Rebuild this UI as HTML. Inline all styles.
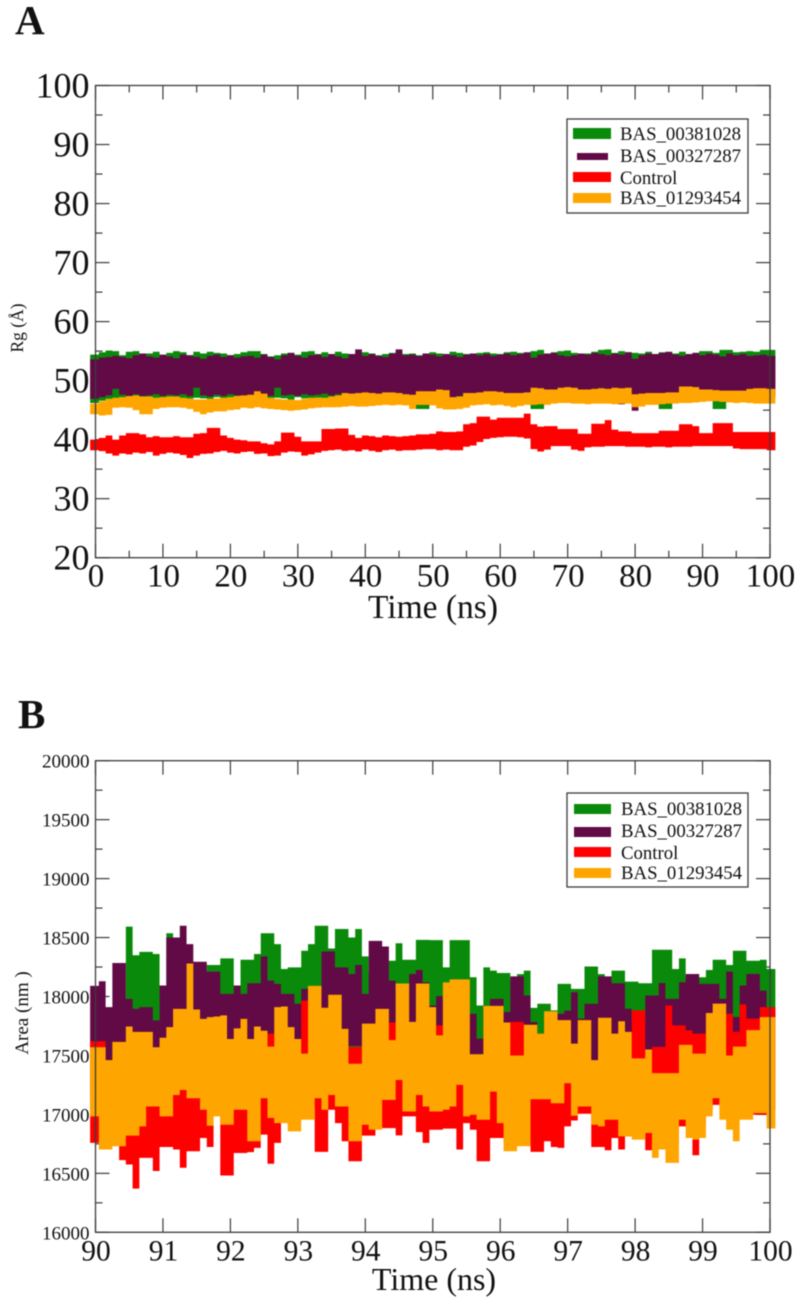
<!DOCTYPE html>
<html>
<head>
<meta charset="utf-8">
<style>
html,body{margin:0;padding:0;background:#fff;width:797px;height:1302px;overflow:hidden}
svg{display:block;filter:blur(0.4px)}
text{font-family:"Liberation Serif",serif;fill:#111}
</style>
</head>
<body>
<svg id="fig" width="797" height="1302" viewBox="0 0 797 1302" xmlns="http://www.w3.org/2000/svg"></svg>
<script>
/* Panel A: radius of gyration, sampled once per ns (0..100) */
const aStart = 0;
const aStep = 1;
const aXTicks = [0,10,20,30,40,50,60,70,80,90,100];
const aXMinor = [5,15,25,35,45,55,65,75,85,95];
const aYTicks = [20,30,40,50,60,70,80,90,100];
const aYMinor = [25,35,45,55,65,75,85,95];
const aGreenTop = [54.4,54.8,55.1,55.0,54.3,54.9,55.0,54.4,54.6,54.9,54.3,54.7,55.0,54.8,54.3,54.9,54.6,54.9,54.7,54.6,54.3,54.5,54.8,55.0,55.0,54.5,54.1,54.3,54.6,54.7,54.4,54.9,55.0,54.5,54.8,54.4,54.9,54.6,54.5,54.7,54.8,54.6,54.3,54.5,54.7,54.9,54.5,54.6,54.3,54.6,54.8,54.6,54.5,54.9,54.7,54.5,54.4,54.7,54.8,54.6,54.5,54.8,54.9,54.7,54.6,55.0,55.2,54.6,54.8,55.0,55.1,54.7,54.5,54.6,54.9,55.2,55.3,54.7,55.0,54.8,54.7,54.6,54.9,54.5,54.8,54.8,54.6,54.9,54.5,54.7,55.0,55.0,54.7,55.2,55.2,54.8,54.9,55.0,54.9,55.2,55.2];
const aGreenBot = [46.2,46.6,46.9,46.9,47.1,46.8,47.0,46.9,47.1,46.8,47.0,47.2,46.9,47.0,46.8,47.1,47.0,46.9,47.2,46.8,47.1,46.9,47.0,46.8,47.2,47.0,46.9,47.1,47.0,46.8,47.2,47.0,46.9,47.1,46.8,47.0,47.2,46.9,47.1,47.0,47.2,46.9,47.1,47.0,47.2,46.9,47.1,47.0,45.2,45.2,47.3,47.1,47.0,47.2,47.3,47.1,47.4,47.2,47.0,47.3,47.1,47.2,47.4,47.1,47.3,45.2,45.2,47.4,47.2,47.5,47.3,47.4,47.2,47.5,47.3,47.4,47.2,47.5,47.3,47.4,47.2,47.3,47.5,47.3,45.2,45.2,47.4,47.6,47.3,47.5,47.4,47.5,45.2,45.2,47.6,47.4,47.5,47.3,47.6,47.4,47.5];
const aPurpleTop = [53.6,53.9,54.0,54.2,54.0,53.8,54.3,54.6,54.1,53.9,54.4,54.1,53.8,54.4,54.3,54.0,53.7,54.2,54.4,54.0,54.3,53.9,54.1,54.2,53.9,54.4,54.0,53.6,54.3,54.7,54.2,53.9,54.3,54.4,54.0,54.5,54.1,53.8,54.5,55.3,54.2,54.5,54.2,54.0,54.6,55.3,54.3,54.4,54.2,54.6,54.4,54.1,54.5,54.3,54.0,54.4,54.6,54.3,54.5,54.2,54.4,54.6,54.3,54.5,54.8,53.9,54.4,54.6,54.7,54.3,54.1,54.3,54.6,54.4,54.7,54.5,54.3,54.6,54.4,54.8,53.7,54.3,54.6,54.5,54.7,54.9,54.4,54.2,54.5,54.7,54.3,54.6,54.4,54.1,54.6,54.3,54.5,54.2,54.3,54.4,54.2];
const aPurpleBot = [46.9,47.2,47.5,48.6,47.6,47.4,47.7,47.4,47.5,47.7,47.4,47.6,47.5,47.7,47.4,48.8,47.5,47.3,47.6,47.4,47.7,47.5,47.4,47.6,47.8,47.5,47.4,48.8,47.5,47.6,47.4,47.7,47.5,47.6,47.8,47.5,47.7,47.6,47.8,47.6,47.9,47.7,47.6,47.8,47.7,47.9,47.7,47.5,47.8,47.9,47.7,47.6,47.0,46.9,47.4,47.8,47.9,47.7,47.8,47.9,47.7,47.8,47.6,47.8,47.9,47.7,47.8,47.9,47.7,47.9,47.8,46.3,47.8,47.9,47.8,47.9,47.7,46.2,46.0,47.7,44.9,47.0,47.6,47.8,47.7,47.6,47.8,47.7,47.9,47.8,47.7,47.9,47.8,47.7,47.9,47.8,47.7,47.9,47.8,47.7,47.2];
const aRedTop = [40.0,40.3,40.7,40.0,40.7,41.1,41.1,40.9,40.4,40.6,40.4,40.4,40.6,40.4,40.4,41.0,41.1,42.0,42.0,40.7,40.3,40.0,39.9,39.7,39.7,39.4,39.2,39.7,41.2,41.2,40.5,39.7,39.7,39.7,41.8,41.8,41.9,41.9,40.8,40.3,40.7,40.6,40.4,40.7,40.6,40.5,40.6,40.7,40.9,40.9,41.0,41.4,41.3,41.3,41.4,42.6,42.8,43.9,43.9,43.4,43.7,43.7,43.7,43.7,44.4,42.6,42.2,42.3,42.3,41.8,41.8,41.8,41.0,41.0,42.7,42.7,43.3,41.7,41.4,41.4,41.1,41.1,41.1,41.1,41.5,41.5,41.5,42.6,42.6,42.3,41.1,41.1,42.8,42.8,42.8,41.3,41.3,41.3,41.3,41.3,41.3];
const aRedBot = [38.2,38.05,37.65,37.3,37.65,37.5,37.8,37.65,37.9,37.3,37.6,37.8,37.65,37.4,36.9,37.3,37.6,37.65,37.9,38.1,37.8,37.65,37.9,38.0,37.6,37.65,37.2,37.3,37.8,38.0,37.9,37.3,37.5,37.8,38.1,38.2,38.3,38.1,38.2,38.0,38.3,38.1,37.9,38.2,38.3,38.1,38.2,38.2,38.3,38.4,38.4,38.2,38.3,38.2,38.2,38.8,39.0,39.6,40.1,40.3,40.4,40.5,40.5,40.4,40.2,38.4,38.0,38.3,38.9,38.9,38.9,38.3,38.1,38.7,38.8,38.8,38.9,38.9,38.9,38.8,38.8,38.8,38.7,38.8,38.8,38.7,38.8,38.8,38.8,38.9,38.9,38.9,38.9,38.9,38.9,38.5,38.4,38.4,38.4,38.4,38.2];
const aOrangeTop = [46.1,46.5,46.9,47.1,47.2,47.4,47.5,47.3,47.3,47.1,47.2,47.3,47.3,47.1,47.0,46.8,46.8,46.9,47.0,47.1,47.2,47.4,47.5,47.6,48.2,47.8,47.1,46.9,46.8,46.8,46.7,46.9,47.1,47.1,47.1,47.3,47.5,47.9,47.8,47.9,48.0,47.9,47.8,48.0,48.0,47.9,47.7,47.6,48.2,48.2,48.2,48.5,48.4,47.2,47.3,47.9,47.9,48.0,48.2,48.2,48.1,47.9,47.9,47.9,48.0,48.8,48.7,48.5,48.5,48.8,48.9,48.8,48.5,48.5,48.6,48.7,48.6,48.8,48.7,48.8,47.7,47.8,47.9,47.9,47.9,48.0,48.0,49.0,49.0,48.9,48.5,48.5,48.4,48.3,48.3,48.3,48.3,48.6,48.7,48.7,48.6];
const aOrangeBot = [44.3,44.1,44.2,45.4,45.5,45.4,45.0,44.3,44.3,45.2,45.4,45.5,45.5,45.4,45.2,44.7,44.3,44.6,44.8,44.8,45.0,45.1,45.4,45.3,45.5,45.3,45.2,45.1,45.0,44.9,45.0,45.1,45.3,45.4,45.5,45.5,45.5,45.6,45.7,45.6,45.6,45.7,45.8,45.9,45.8,45.9,45.8,45.2,45.9,45.9,45.8,45.3,45.1,45.1,45.2,45.4,45.8,45.9,46.0,45.8,45.9,45.7,45.5,45.7,45.9,45.9,46.0,45.9,46.1,46.2,46.2,46.1,46.1,46.0,46.1,46.1,46.1,46.0,46.1,46.1,45.5,45.6,45.9,45.9,46.0,46.1,46.1,46.2,46.2,46.3,46.4,46.5,46.5,46.4,46.3,46.2,46.3,46.2,46.1,46.1,46.1];

/* Panel B: area, sampled every 0.1 ns (90..100) */
const bStart = 90;
const bStep = 0.1;
const bXTicks = [90,91,92,93,94,95,96,97,98,99,100];
const bXMinor = [];
const bYTicks = [16000,16500,17000,17500,18000,18500,19000,19500,20000];
const bYMinor = [16250,16750,17250,17750,18250,18750,19250,19750];
const bGreenTop = [17460,17300,17700,17800,17850,18593,18350,18379,18379,18360,18093,18537,18160,18200,18200,18100,18050,18267,18267,18323,18323,18093,18312,18312,18360,18537,18537,18444,18233,18247,18247,18388,18444,18600,18600,18407,18573,18573,18500,18573,18340,18200,18250,18303,18303,18452,18312,18312,18480,18480,18478,18478,18247,18478,18478,18478,18163,17924,18247,18219,18199,18199,18135,18190,18219,17904,17938,17938,17882,18107,18107,18065,18065,18255,18255,18190,18163,18219,18219,18126,18126,18112,18112,18396,18396,18396,18233,18323,18163,18163,18163,18225,18312,18312,18267,18388,18388,18303,18303,18312,18233];
const bGreenBot = [17170,17320,17400,17350,17420,17380,17440,17360,17410,17370,17430,17390,17350,17420,17380,17440,17360,17410,17390,17350,17430,17370,17420,17390,17440,17360,17410,17380,17430,17350,17400,17370,17440,17390,17360,17420,17380,17410,17350,17430,17390,17370,17440,17360,17410,17380,17420,17350,17430,17390,17370,17440,17360,17410,17380,17420,17390,17350,17430,17370,17410,17390,17440,17360,17420,17380,17350,17430,17390,17410,17370,17440,17360,17420,17380,17410,17350,17430,17390,17370,17440,17360,17410,17380,17420,17350,17390,17430,17370,17410,17440,17360,17390,17420,17380,17350,17410,17430,17370,17390,17320];
const bPurpleTop = [18090,18129,17910,18284,18284,17980,17896,17910,17910,17797,18093,18500,18500,18600,18444,18295,18295,18211,18211,18022,18022,18093,18022,18112,18112,18340,18135,18107,18022,18022,17938,18065,18080,18080,18382,18382,18247,18247,18191,18267,18022,18472,18472,18424,18135,18050,18050,18191,18225,18120,17924,18003,17938,17938,17938,17938,17854,17643,17880,17980,17980,17868,18171,18171,18008,17783,17685,17800,17825,17854,17880,18036,17812,17938,17938,18171,18171,18112,18112,17896,17797,17797,18008,18008,18115,17980,17980,18121,18191,18191,18107,18107,18107,17980,18211,17826,18093,18191,18191,18050,17882];
const bPurpleBot = [17460,17430,17460,17380,17350,17420,17390,17360,17410,17450,17380,17340,17400,17370,17430,17350,17410,17380,17440,17360,17420,17390,17350,17430,17370,17410,17380,17440,17360,17400,17390,17420,17350,17430,17380,17360,17410,17440,17580,17580,17390,17420,17370,17350,17410,17430,17380,17440,17360,17400,17420,17390,17350,17430,17370,17410,17380,17510,17360,17440,17400,17390,17420,17350,17430,17370,17410,17380,17440,17360,17390,17420,17350,17410,17430,17370,17390,17360,17440,17400,17380,17420,17350,17400,17430,17370,17390,17410,17360,17440,17380,17420,17350,17400,17430,17370,17390,17410,17360,17380,17300];
const bRedTop = [17620,17620,17430,17400,17420,17350,17410,17390,17430,17380,17440,17400,17460,17390,17450,17420,17380,17440,17400,17450,17410,17390,17440,17400,17380,17430,17685,17430,17400,17450,17410,17965,17450,17420,17380,17440,17400,17430,17573,17573,17420,17390,17440,17410,17780,17400,17450,17380,17430,17410,17400,17755,17450,17400,17430,17380,17420,17400,17440,17390,17430,17410,17785,17785,17430,17390,17440,17410,17380,17430,17400,17420,17390,17440,17400,17430,17380,17420,17400,17440,17882,17882,17500,17573,17573,17924,17755,17755,17713,17685,17685,17500,17560,17450,17854,17700,17933,17812,17812,17910,17910];
const bRedBot = [16758,16758,16772,16815,16612,16575,16370,16631,16631,16520,16724,16724,16702,16547,16687,16687,16800,16724,17039,16482,16482,16673,16673,16680,16716,16828,16581,16758,17020,16980,17010,17060,17050,16682,16682,17039,16926,16772,16603,16603,16820,16820,16898,16884,16884,16822,16983,16983,16850,16758,16870,16870,16879,16879,16702,16926,16870,16603,16603,16800,16800,16758,16758,16758,16758,16682,16682,16772,16724,16716,16898,16948,17005,17005,16724,16724,16696,16800,16702,16814,16898,16898,16696,16758,16758,16758,16758,16898,16898,16654,16898,17039,17081,17120,17039,17039,17039,17039,16997,16997,17039];
const bOrangeTop = [17570,17570,17460,17615,17615,17745,17700,17700,17700,17570,17650,17740,17895,17895,18280,17890,17810,17825,17830,17840,17640,17730,17810,17640,17745,17710,17575,17910,17915,17740,17640,17515,18090,18090,17905,18015,18015,17725,17430,17430,17770,17770,17895,17895,17630,18110,18110,17785,18110,18110,17910,17670,18120,18145,18145,18145,17510,17510,17920,17920,17920,17780,17500,17500,17760,17760,17685,17875,17875,17800,17800,17600,17800,17800,17460,17820,17820,17685,17790,17700,17475,17475,17550,17350,17350,17350,17350,17590,17590,17515,17515,17860,17940,17940,17500,17575,17575,17715,17715,17825,17825];
const bOrangeBot = [16983,16702,16702,16730,16730,16820,16820,16898,17067,17067,16983,16983,17165,17207,17137,17137,17039,16904,16983,16912,16912,17039,17039,16772,16772,17137,16970,16926,16926,16856,16856,16955,16955,17137,17039,17165,17067,17067,16772,16772,16912,16870,16870,17123,17123,17292,17025,17025,17165,17067,17025,17025,17039,17067,17250,16983,16997,16955,16955,17193,16926,16687,16687,16730,16730,17129,17129,17129,17095,17095,17264,16988,17067,17067,16912,16898,16955,16955,16814,16814,16786,16786,16842,16631,16702,16589,16589,16955,16800,16786,16800,16983,17137,16955,16870,16772,16955,16955,17011,17011,16880];

const seriesNames = ["BAS_00381028","BAS_00327287","Control","BAS_01293454"];
const seriesColors = ["#0a8a0a","#620a46","#ff0000","#ffa500"];
const svgNS = "http://www.w3.org/2000/svg";
const fig = document.getElementById("fig");

function make(tag, attrs, parent) {
  const el = document.createElementNS(svgNS, tag);
  for (const k in attrs) el.setAttribute(k, attrs[k]);
  (parent || fig).appendChild(el);
  return el;
}
function linear(d0, d1, r0, r1) {
  return function (v) { return r0 + (v - d0) * (r1 - r0) / (d1 - d0); };
}
function bandPath(top, bot, start, step, sx, sy) {
  const half = Math.abs(sx(start + step) - sx(start)) / 2;
  const capOver = 2;
  const last = top.length - 1;
  function leftEdge(i) { return sx(start + i * step) - half - (i === 0 ? capOver : 0); }
  function rightEdge(i) { return sx(start + i * step) + half + (i === last ? capOver : 0); }
  let up = "", down = "";
  for (let i = 0; i < top.length; i++) {
    up += (i ? "L" : "M") + leftEdge(i).toFixed(2) + " " + sy(top[i]).toFixed(2) + "L" + rightEdge(i).toFixed(2) + " " + sy(top[i]).toFixed(2);
  }
  for (let i = bot.length - 1; i >= 0; i--) {
    down += "L" + rightEdge(i).toFixed(2) + " " + sy(bot[i]).toFixed(2) + "L" + leftEdge(i).toFixed(2) + " " + sy(bot[i]).toFixed(2);
  }
  return up + down + "Z";
}

function drawPanel(p) {
  const g = make("g", {});
  
  
  const sx = linear(p.xDomain[0], p.xDomain[1], p.left, p.right);
  const sy = linear(p.yDomain[0], p.yDomain[1], p.bottom, p.top);

  const axisColor = "#3c3c3c";
  function tick(x1, y1, x2, y2, w) {
    const t = make("line", { x1: x1, y1: y1, x2: x2, y2: y2, stroke: axisColor, "stroke-width": w }, g);
    
    
  }
  p.xTicks.forEach(function (v) {
    tick(sx(v), p.bottom, sx(v), p.bottom - 14, 1.2);
    tick(sx(v), p.top, sx(v), p.top + 14, 1.2);
  });
  p.xMinor.forEach(function (v) {
    tick(sx(v), p.bottom, sx(v), p.bottom - 7, 1.2);
    tick(sx(v), p.top, sx(v), p.top + 7, 1.2);
  });
  p.yTicks.forEach(function (v) {
    tick(p.left, sy(v), p.left + 14, sy(v), 1.2);
    tick(p.right, sy(v), p.right - 14, sy(v), 1.2);
  });
  p.yMinor.forEach(function (v) {
    tick(p.left, sy(v), p.left + 7, sy(v), 1.2);
    tick(p.right, sy(v), p.right - 7, sy(v), 1.2);
  });

  p.bands.forEach(function (b, idx) {
    const path = make("path", { d: bandPath(b[0], b[1], p.start, p.step, sx, sy), fill: seriesColors[idx] }, g);
    
    
  });

  const frame = make("rect", { x: p.left, y: p.top, width: p.right - p.left, height: p.bottom - p.top, fill: "none", stroke: axisColor, "stroke-width": 1.3 }, g);
  
  

  p.xTicks.forEach(function (v) {
    const t = make("text", { x: sx(v) + 0.5, y: p.xTickBase, "font-size": p.xTickSize, "text-anchor": "middle" }, g);
    
    
    t.textContent = String(v);
  });
  p.yTicks.forEach(function (v) {
    const t = make("text", { x: 89.5, y: sy(v) + p.yTickShift, "font-size": p.yTickSize, "text-anchor": "end", fill: p.yTickFill }, g);
    
    
    t.textContent = String(v);
  });

  const xt = make("text", { x: p.xTitleX, y: p.xTitleY, "font-size": p.xTitleSize, "text-anchor": "middle" }, g);
  
  
  xt.textContent = "Time (ns)";
  const yt = make("text", { transform: "translate(" + p.yTitleX + " " + p.yTitleY + ") rotate(-90)", "font-size": p.yTitleSize, "text-anchor": "middle" }, g);
  
  
  yt.textContent = p.yTitle;

  const letter = make("text", { x: p.letterX, y: p.letterY, "font-size": 41, "font-weight": "bold", fill: "#000" }, g);
  
  
  letter.textContent = p.letter;

  const lg = make("g", {}, g);
  
  
  const box = make("rect", { x: 567, y: p.legendTop, width: 181, height: p.legendHeight, fill: "#fff", stroke: axisColor, "stroke-width": 1.3 }, lg);
  
  
  seriesNames.forEach(function (name, idx) {
    const sw = p.swatches[idx];
    const r = make("rect", { x: sw[0], y: sw[1], width: sw[2], height: sw[3], fill: seriesColors[idx] }, lg);
    
    
    const t = make("text", { x: p.legendTextX, y: p.legendBases[idx], "font-size": 18.8, fill: "#222" }, lg);
    
    
    t.textContent = name;
  });
}

drawPanel({
  id: "panel-a", letter: "A", letterX: 15, letterY: 34,
  left: 95.5, right: 770, top: 85.5, bottom: 557.7,
  xDomain: [0, 100], yDomain: [20, 100], start: aStart, step: aStep,
  xTicks: aXTicks, xMinor: aXMinor, yTicks: aYTicks, yMinor: aYMinor,
  bands: [[aGreenTop, aGreenBot], [aPurpleTop, aPurpleBot], [aRedTop, aRedBot], [aOrangeTop, aOrangeBot]],
  xTickBase: 586.7, xTickSize: 33, yTickSize: 36, yTickShift: 12, yTickFill: "#111",
  xTitleX: 433, xTitleY: 618, xTitleSize: 33.5,
  yTitle: "Rg (\u00c5)", yTitleX: 23, yTitleY: 328, yTitleSize: 17.5,
  legendTop: 119, legendHeight: 94, legendTextX: 620,
  swatches: [[573, 128, 38, 11], [577, 153, 31, 7], [573, 172, 38, 10], [573, 193, 38, 10]],
  legendBases: [140, 162, 184, 204]
});
drawPanel({
  id: "panel-b", letter: "B", letterX: 18, letterY: 728,
  left: 95.5, right: 770, top: 760.7, bottom: 1232.3,
  xDomain: [90, 100], yDomain: [16000, 20000], start: bStart, step: bStep,
  xTicks: bXTicks, xMinor: bXMinor, yTicks: bYTicks, yMinor: bYMinor,
  bands: [[bGreenTop, bGreenBot], [bPurpleTop, bPurpleBot], [bRedTop, bRedBot], [bOrangeTop, bOrangeBot]],
  xTickBase: 1260.7, xTickSize: 29.5, yTickSize: 19, yTickShift: 7, yTickFill: "#333",
  xTitleX: 434, xTitleY: 1290, xTitleSize: 32,
  yTitle: "Area (nm )", yTitleX: 28, yTitleY: 1013, yTitleSize: 19,
  legendTop: 793, legendHeight: 94, legendTextX: 621,
  swatches: [[574, 804, 37, 10], [574, 827, 37, 10], [574, 847, 37, 10], [574, 868, 37, 10]],
  legendBases: [815, 837, 859, 879]
});
</script>
</body>
</html>
